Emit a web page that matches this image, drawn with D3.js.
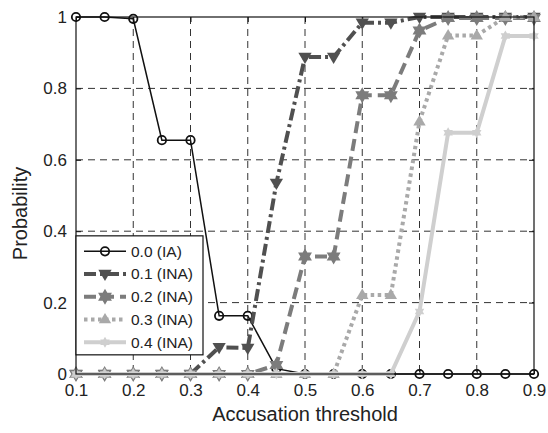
<!DOCTYPE html>
<html>
<head>
<meta charset="utf-8">
<script src="https://cdn.jsdelivr.net/npm/d3@7"></script>
<style>
  body { margin: 0; background: #fff; }
  svg { display: block; font-family: 'Liberation Sans', Arial, sans-serif; }
</style>
</head>
<body>
<svg class="chart"></svg>
<script>
// thresholds on the x axis
const thresholds = [0.1, 0.15, 0.2, 0.25, 0.3, 0.35, 0.4, 0.45, 0.5, 0.55, 0.6, 0.65, 0.7, 0.75, 0.8, 0.85, 0.9];
const xTicks = [0.1, 0.2, 0.3, 0.4, 0.5, 0.6, 0.7, 0.8, 0.9];
const yTicks = [0, 0.2, 0.4, 0.6, 0.8, 1];

const seriesNames = ['0.0 (IA)', '0.1 (INA)', '0.2 (INA)', '0.3 (INA)', '0.4 (INA)'];
const ia00 = [1, 1, 0.995, 0.655, 0.655, 0.163, 0.163, 0.015, 0, 0, 0, 0, 0, 0, 0, 0, 0];
const ina01 = [0, 0, 0, 0, 0, 0.075, 0.073, 0.535, 0.888, 0.888, 0.984, 0.984, 1, 1, 1, 1, 1];
const ina02 = [0, 0, 0, 0, 0, 0, 0, 0.025, 0.329, 0.329, 0.781, 0.781, 0.962, 0.997, 0.997, 0.997, 0.997];
const ina03 = [0, 0, 0, 0, 0, 0, 0, 0, 0, 0, 0.221, 0.221, 0.707, 0.948, 0.948, 1, 1];
const ina04 = [0, 0, 0, 0, 0, 0, 0, 0, 0, 0, 0, 0, 0.175, 0.676, 0.676, 0.947, 0.947];

const width = 548;
const height = 433;
const margin = { top: 17, right: 14, bottom: 59, left: 76 };
const plotW = width - margin.left - margin.right;
const plotH = height - margin.top - margin.bottom;

// six pointed star used by matlab 'hexagram'
function hexagram(r) {
  let pts = [];
  for (let i = 0; i < 12; i++) {
    let a = -Math.PI / 2 + i * Math.PI / 6;
    let rr = i % 2 === 0 ? r : r * 0.58;
    pts.push([rr * Math.cos(a), rr * Math.sin(a)]);
  }
  return 'M' + pts.map((p) => p.join(',')).join('L') + 'Z';
}
function triangle(r, down) {
  let s = down ? -1 : 1;
  return `M0,${-r * s}L${r * 0.95},${r * 0.6 * s}L${-r * 0.95},${r * 0.6 * s}Z`;
}

const styles = [
  { color: '#111', width: 1.5, dash: null, marker: 'circle' },
  { color: '#505050', width: 4, dash: '12,4,3,4', marker: triangle(7, true) },
  { color: '#7c7c7c', width: 4, dash: '12,6', marker: hexagram(8) },
  { color: '#a9a9a9', width: 4, dash: '3.5,3.5', marker: triangle(6.5, false) },
  { color: '#cfcfcf', width: 4, dash: null, marker: hexagram(5.5) },
];
const allValues = [ia00, ina01, ina02, ina03, ina04];

const svg = d3.select('.chart').attr('width', width).attr('height', height);
const g = svg.append('g').attr('transform', `translate(${margin.left},${margin.top})`);

const x = d3.scaleLinear().domain([0.1, 0.9]).range([0, plotW]);
const y = d3.scaleLinear().domain([0, 1]).range([plotH, 0]);

// dashed grid
g.append('g')
  .selectAll('line')
  .data(xTicks.slice(1, -1))
  .enter()
  .append('line')
  .attr('x1', (d) => x(d))
  .attr('x2', (d) => x(d))
  .attr('y1', 0)
  .attr('y2', plotH)
  .attr('stroke', '#333')
  .attr('stroke-dasharray', '7,5');
g.append('g')
  .selectAll('line')
  .data(yTicks.slice(1, -1))
  .enter()
  .append('line')
  .attr('y1', (d) => y(d))
  .attr('y2', (d) => y(d))
  .attr('x1', 0)
  .attr('x2', plotW)
  .attr('stroke', '#333')
  .attr('stroke-dasharray', '7,5');

// axes with inner ticks, also mirrored at top and right
function styleAxis(sel) {
  sel.select('.domain').remove();
  sel.selectAll('.tick line').attr('stroke', '#111');
  sel.selectAll('.tick text').attr('fill', '#222').style('font-size', '17px');
}
g.append('g')
  .attr('transform', `translate(0,${plotH})`)
  .call(d3.axisBottom(x).tickValues(xTicks).tickSize(-5).tickPadding(10).tickFormat(d3.format('.1f')))
  .call(styleAxis);
g.append('g')
  .call(d3.axisLeft(y).tickValues(yTicks).tickSize(-5).tickPadding(9).tickFormat((d) => (d === 0 || d === 1 ? d : d3.format('.1f')(d))))
  .call(styleAxis);
g.append('g')
  .call(d3.axisTop(x).tickValues(xTicks).tickSize(-5).tickFormat(''))
  .call(styleAxis);
g.append('g')
  .attr('transform', `translate(${plotW},0)`)
  .call(d3.axisRight(y).tickValues(yTicks).tickSize(-5).tickFormat(''))
  .call(styleAxis);

// series
const line = d3
  .line()
  .x((d) => x(d.x))
  .y((d) => y(d.y));

function drawMarker(sel, st) {
  if (st.marker === 'circle') {
    sel.append('circle').attr('r', 4.2).attr('fill', 'none').attr('stroke', st.color).attr('stroke-width', 1.8);
  } else {
    sel.append('path').attr('d', st.marker).attr('fill', st.color);
  }
}

allValues.forEach((vals, i) => {
  let st = styles[i];
  let pts = thresholds.map((t, j) => ({ x: t, y: vals[j] }));
  let sg = g.append('g');
  sg.append('path')
    .attr('d', line(pts))
    .attr('fill', 'none')
    .attr('stroke', st.color)
    .attr('stroke-width', st.width)
    .attr('stroke-dasharray', st.dash);
  sg.selectAll('.m')
    .data(pts)
    .enter()
    .append('g')
    .attr('transform', (d) => `translate(${x(d.x)},${y(d.y)})`)
    .each(function () {
      drawMarker(d3.select(this), st);
    });
});

// plot frame
g.append('rect')
  .attr('width', plotW)
  .attr('height', plotH)
  .attr('fill', 'none')
  .attr('stroke', '#111')
  .attr('stroke-width', 1.2);

// legend
const legend = g.append('g').attr('transform', `translate(0,${y(0.387)})`);
legend.append('rect')
  .attr('width', 127)
  .attr('height', 119)
  .attr('fill', '#fff')
  .attr('stroke', '#111')
  .attr('stroke-width', 1.2);
seriesNames.forEach((name, i) => {
  let st = styles[i];
  let row = legend.append('g').attr('transform', `translate(0,${15.5 + i * 22.7})`);
  row.append('line')
    .attr('x1', 8)
    .attr('x2', 50)
    .attr('stroke', st.color)
    .attr('stroke-width', st.width)
    .attr('stroke-dasharray', st.dash);
  drawMarker(row.append('g').attr('transform', 'translate(29,0)'), st);
  row.append('text')
    .attr('x', 55)
    .attr('dy', '0.35em')
    .attr('fill', '#222')
    .style('font-size', '15.5px')
    .text(name);
});

// axis titles
svg.append('text')
  .attr('x', margin.left + plotW / 2)
  .attr('y', 421)
  .attr('text-anchor', 'middle')
  .attr('fill', '#222')
  .style('font-size', '20px')
  .text('Accusation threshold');
svg.append('text')
  .attr('transform', `translate(27,${margin.top + plotH / 2 + 18}) rotate(-90)`)
  .attr('text-anchor', 'middle')
  .attr('fill', '#222')
  .style('font-size', '20px')
  .text('Probability');
</script>
</body>
</html>
